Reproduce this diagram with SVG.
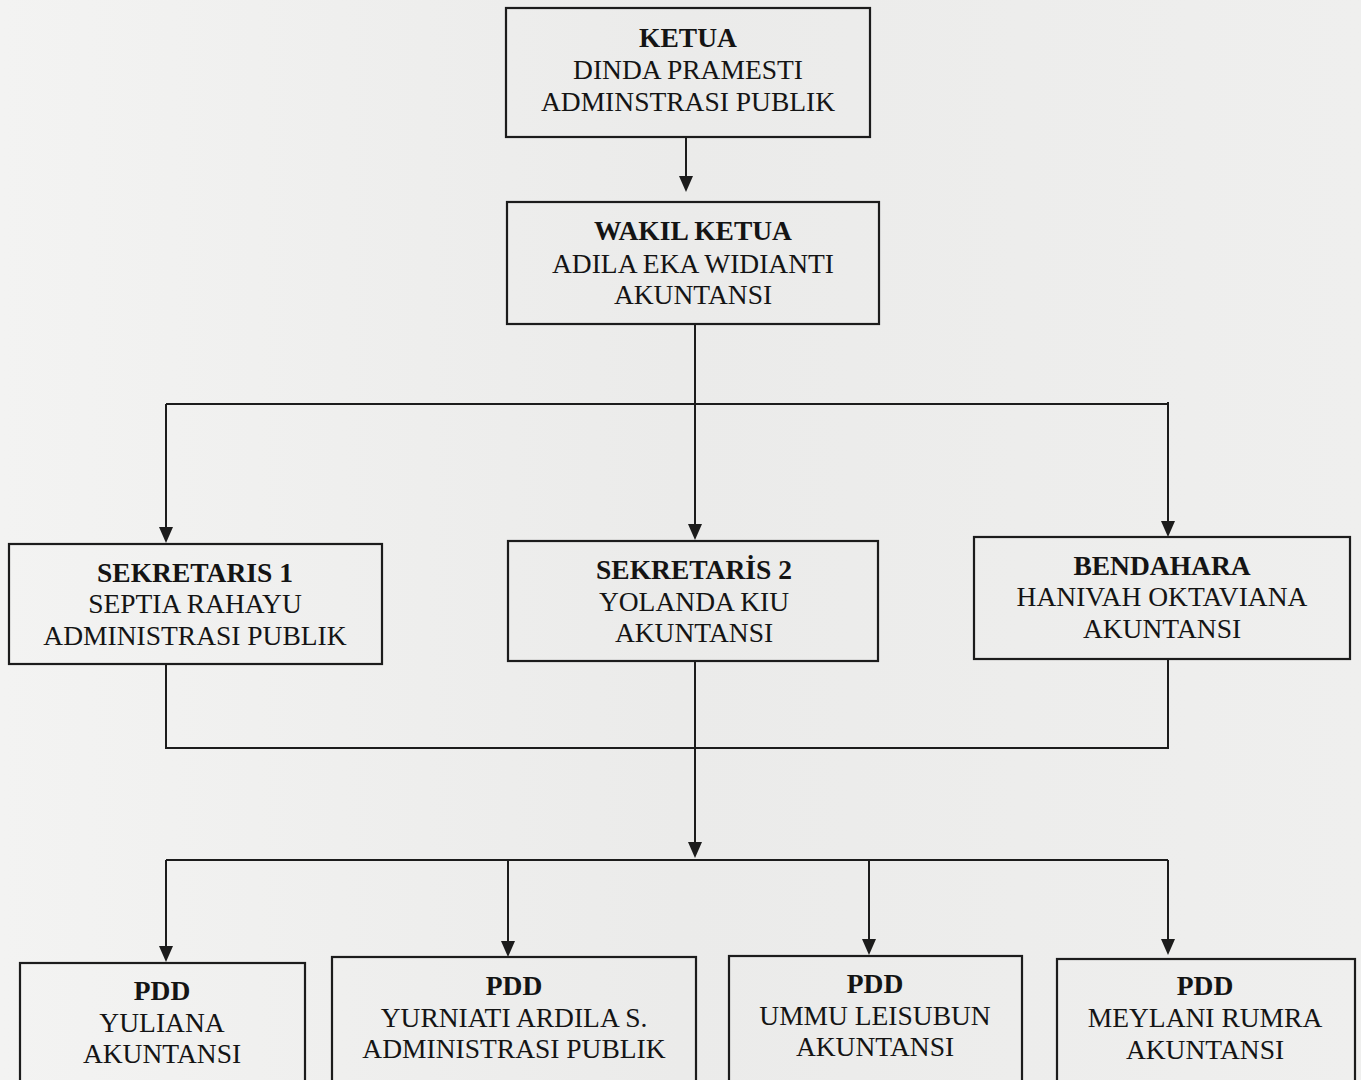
<svg xmlns="http://www.w3.org/2000/svg" width="1361" height="1080" viewBox="0 0 1361 1080">
<style>
.box{fill:none;stroke:#1c1c1c;stroke-width:2.2}
.ln{fill:none;stroke:#1c1c1c;stroke-width:2}
.ah{fill:#1c1c1c}
text{font-family:"Liberation Serif","Times New Roman",serif;font-size:27.5px;fill:#141414;text-anchor:middle}
.b{font-weight:bold}
</style>
<defs>
<linearGradient id="bg" x1="0" y1="0" x2="1" y2="0">
<stop offset="0" stop-color="#f3f3f2"/>
<stop offset="0.5" stop-color="#ebebea"/>
<stop offset="1" stop-color="#efefee"/>
</linearGradient>
</defs>
<rect x="0" y="0" width="1361" height="1080" fill="url(#bg)"/>

<g id="connectors">
<path class="ln" d="M686,138 V180"/>
<path class="ln" d="M695,324 V528"/>
<path class="ln" d="M166,404 H1168"/>
<path class="ln" d="M166,404 V530"/>
<path class="ln" d="M1168,402 V524"/>
<path class="ln" d="M166,665 V748 H1168 V659"/>
<path class="ln" d="M695,661 V846"/>
<path class="ln" d="M166,860 H1168"/>
<path class="ln" d="M166,860 V950"/>
<path class="ln" d="M508,860 V944"/>
<path class="ln" d="M869,860 V942"/>
<path class="ln" d="M1168,860 V942"/>
<path class="ah" d="M679,176 H693 L686,192 Z"/>
<path class="ah" d="M688,524 H702 L695,540 Z"/>
<path class="ah" d="M159,527 H173 L166,543 Z"/>
<path class="ah" d="M1161,521 H1175 L1168,537 Z"/>
<path class="ah" d="M688,842 H702 L695,858 Z"/>
<path class="ah" d="M159,946 H173 L166,962 Z"/>
<path class="ah" d="M501,941 H515 L508,957 Z"/>
<path class="ah" d="M862,939 H876 L869,955 Z"/>
<path class="ah" d="M1161,939 H1175 L1168,955 Z"/>
</g>

<g id="ketua">
<rect class="box" x="506" y="8" width="364" height="129"/>
<text class="b" x="688" y="47">KETUA</text>
<text x="688" y="79">DINDA PRAMESTI</text>
<text x="688" y="111">ADMINSTRASI PUBLIK</text>
</g>

<g id="wakil">
<rect class="box" x="507" y="202" width="372" height="122"/>
<text class="b" x="693" y="240">WAKIL KETUA</text>
<text x="693" y="273">ADILA EKA WIDIANTI</text>
<text x="693" y="304">AKUNTANSI</text>
</g>

<g id="sekretaris1">
<rect class="box" x="9" y="544" width="373" height="120"/>
<text class="b" x="195" y="582">SEKRETARIS 1</text>
<text x="195" y="613">SEPTIA RAHAYU</text>
<text x="195" y="645">ADMINISTRASI PUBLIK</text>
</g>

<g id="sekretaris2">
<rect class="box" x="508" y="541" width="370" height="120"/>
<text class="b" x="694" y="579">SEKRETARİS 2</text>
<text x="694" y="611">YOLANDA KIU</text>
<text x="694" y="642">AKUNTANSI</text>
</g>

<g id="bendahara">
<rect class="box" x="974" y="537" width="376" height="122"/>
<text class="b" x="1162" y="575">BENDAHARA</text>
<text x="1162" y="606">HANIVAH OKTAVIANA</text>
<text x="1162" y="638">AKUNTANSI</text>
</g>

<g id="pdd1">
<rect class="box" x="20" y="963" width="285" height="130"/>
<text class="b" x="162" y="1000">PDD</text>
<text x="162" y="1032">YULIANA</text>
<text x="162" y="1063">AKUNTANSI</text>
</g>

<g id="pdd2">
<rect class="box" x="332" y="957" width="364" height="130"/>
<text class="b" x="514" y="995">PDD</text>
<text x="514" y="1027">YURNIATI ARDILA S.</text>
<text x="514" y="1058">ADMINISTRASI PUBLIK</text>
</g>

<g id="pdd3">
<rect class="box" x="729" y="956" width="293" height="130"/>
<text class="b" x="875" y="993">PDD</text>
<text x="875" y="1025">UMMU LEISUBUN</text>
<text x="875" y="1056">AKUNTANSI</text>
</g>

<g id="pdd4">
<rect class="box" x="1057" y="959" width="298" height="130"/>
<text class="b" x="1205" y="995">PDD</text>
<text x="1205" y="1027">MEYLANI RUMRA</text>
<text x="1205" y="1059">AKUNTANSI</text>
</g>
</svg>
